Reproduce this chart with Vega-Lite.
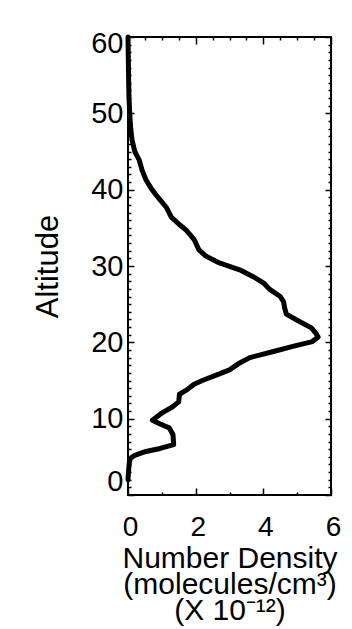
{
  "$schema": "https://vega.github.io/schema/vega-lite/v6.json",
  "width": 203,
  "height": 458,
  "autosize": {"type": "none"},
  "padding": {"left": 128, "top": 37, "right": 21, "bottom": 134},
  "background": "white",
  "config": {
    "font": "Liberation Sans",
    "view": {"stroke": "black", "strokeWidth": 2},
    "axis": {
      "domain": false,
      "grid": false,
      "tickColor": "black",
      "tickWidth": 1.5,
      "labelColor": "black",
      "labelFont": "Liberation Sans",
      "labelFontSize": 28,
      "labelOverlap": false,
      "labelBound": false,
      "titleFont": "Liberation Sans",
      "titleFontWeight": "normal",
      "titleColor": "black",
      "titleFontSize": 30
    }
  },
  "data": {
    "values": [
      {"altitude": 60, "density": 0.0},
      {"altitude": 57, "density": 0.01},
      {"altitude": 54, "density": 0.02},
      {"altitude": 52, "density": 0.03},
      {"altitude": 50, "density": 0.05},
      {"altitude": 48, "density": 0.08},
      {"altitude": 46.5, "density": 0.12},
      {"altitude": 45, "density": 0.2},
      {"altitude": 43.9, "density": 0.33},
      {"altitude": 42.5, "density": 0.42},
      {"altitude": 41.3, "density": 0.53},
      {"altitude": 40.2, "density": 0.68},
      {"altitude": 39.3, "density": 0.83},
      {"altitude": 38.5, "density": 0.98},
      {"altitude": 37.7, "density": 1.13},
      {"altitude": 36.4, "density": 1.28},
      {"altitude": 35.5, "density": 1.5},
      {"altitude": 34.7, "density": 1.72},
      {"altitude": 33.5, "density": 1.95},
      {"altitude": 32.1, "density": 2.1},
      {"altitude": 31.3, "density": 2.3},
      {"altitude": 30.4, "density": 2.7},
      {"altitude": 29.5, "density": 3.3},
      {"altitude": 28.6, "density": 3.7},
      {"altitude": 27.8, "density": 4.0},
      {"altitude": 26.9, "density": 4.2},
      {"altitude": 26.0, "density": 4.5},
      {"altitude": 25.3, "density": 4.6},
      {"altitude": 24.5, "density": 4.63},
      {"altitude": 23.7, "density": 4.68},
      {"altitude": 22.9, "density": 5.0},
      {"altitude": 21.9, "density": 5.42},
      {"altitude": 21.2, "density": 5.55},
      {"altitude": 20.7, "density": 5.62},
      {"altitude": 20.1, "density": 5.45},
      {"altitude": 19.5, "density": 4.9},
      {"altitude": 18.8, "density": 4.3},
      {"altitude": 18.0, "density": 3.6},
      {"altitude": 17.3, "density": 3.3},
      {"altitude": 16.4, "density": 3.0},
      {"altitude": 15.6, "density": 2.55},
      {"altitude": 15.1, "density": 2.25},
      {"altitude": 14.5, "density": 1.95},
      {"altitude": 13.8, "density": 1.75},
      {"altitude": 13.2, "density": 1.52},
      {"altitude": 12.2, "density": 1.5},
      {"altitude": 11.5, "density": 1.3},
      {"altitude": 10.8, "density": 1.02},
      {"altitude": 9.8, "density": 0.72},
      {"altitude": 9.3, "density": 0.95},
      {"altitude": 8.8, "density": 1.22},
      {"altitude": 7.9, "density": 1.33},
      {"altitude": 6.6, "density": 1.35},
      {"altitude": 6.1, "density": 0.95},
      {"altitude": 5.7, "density": 0.53},
      {"altitude": 5.2, "density": 0.2},
      {"altitude": 4.8, "density": 0.07},
      {"altitude": 4.3, "density": 0.04},
      {"altitude": 3.3, "density": 0.02},
      {"altitude": 2.0, "density": 0.0}
    ]
  },
  "layer": [
    {
      "mark": {"type": "line", "color": "black", "strokeWidth": 5, "strokeCap": "round", "strokeJoin": "round"},
      "encoding": {
        "x": {
          "field": "density", "type": "quantitative",
          "scale": {"domain": [0, 6], "nice": false, "zero": false},
          "axis": {
            "orient": "bottom",
            "values": [0, 0.5, 1, 1.5, 2, 2.5, 3, 3.5, 4, 4.5, 5, 5.5, 6],
            "format": "d",
            "labelExpr": "datum.value % 2 === 0 ? datum.label : ''",
            "labelFlush": false,
            "labelOffset": 2,
            "tickSize": {"condition": {"test": "datum.value % 2 === 0", "value": -7}, "value": -3},
            "labelPadding": 25,
            "title": ["Number Density", "(molecules/cm³)", "(X 10⁻¹²)"],
            "titleLineHeight": 26,
            "titlePadding": -2
          }
        },
        "y": {
          "field": "altitude", "type": "quantitative",
          "scale": {"domain": [0, 60], "nice": false, "zero": false},
          "axis": {
            "orient": "left",
            "values": [0,1,2,3,4,5,6,7,8,9,10,11,12,13,14,15,16,17,18,19,20,21,22,23,24,25,26,27,28,29,30,31,32,33,34,35,36,37,38,39,40,41,42,43,44,45,46,47,48,49,50,51,52,53,54,55,56,57,58,59,60],
            "labelExpr": "datum.value % 10 === 0 ? datum.label : ''",
            "labelFlush": false,
            "labelFontSize": 29,
            "labelOffset": {"condition": [{"test": "datum.value === 60", "value": 6}, {"test": "datum.value === 0", "value": -14}], "value": 0},
            "tickSize": {"condition": {"test": "datum.value % 10 === 0", "value": -6}, "value": -3},
            "labelPadding": 11,
            "title": "Altitude",
            "titleFontSize": 31,
            "titlePadding": 26
          }
        },
        "order": {"field": "altitude", "type": "quantitative"}
      }
    },
    {
      "mark": {"type": "line", "opacity": 0},
      "encoding": {
        "x": {
          "field": "density", "type": "quantitative",
          "scale": {"domain": [0, 6], "nice": false, "zero": false},
          "axis": {
            "orient": "top",
            "values": [0, 0.5, 1, 1.5, 2, 2.5, 3, 3.5, 4, 4.5, 5, 5.5, 6],
            "labels": false,
            "tickSize": {"condition": {"test": "datum.value % 2 === 0", "value": -7}, "value": -3},
            "title": null
          }
        },
        "y": {
          "field": "altitude", "type": "quantitative",
          "scale": {"domain": [0, 60], "nice": false, "zero": false},
          "axis": {
            "orient": "right",
            "values": [0,1,2,3,4,5,6,7,8,9,10,11,12,13,14,15,16,17,18,19,20,21,22,23,24,25,26,27,28,29,30,31,32,33,34,35,36,37,38,39,40,41,42,43,44,45,46,47,48,49,50,51,52,53,54,55,56,57,58,59,60],
            "labels": false,
            "tickSize": {"condition": {"test": "datum.value % 10 === 0", "value": -6}, "value": -3},
            "title": null
          }
        },
        "order": {"field": "altitude", "type": "quantitative"}
      }
    }
  ],
  "resolve": {
    "scale": {"x": "independent", "y": "independent"},
    "axis": {"x": "independent", "y": "independent"}
  }
}
